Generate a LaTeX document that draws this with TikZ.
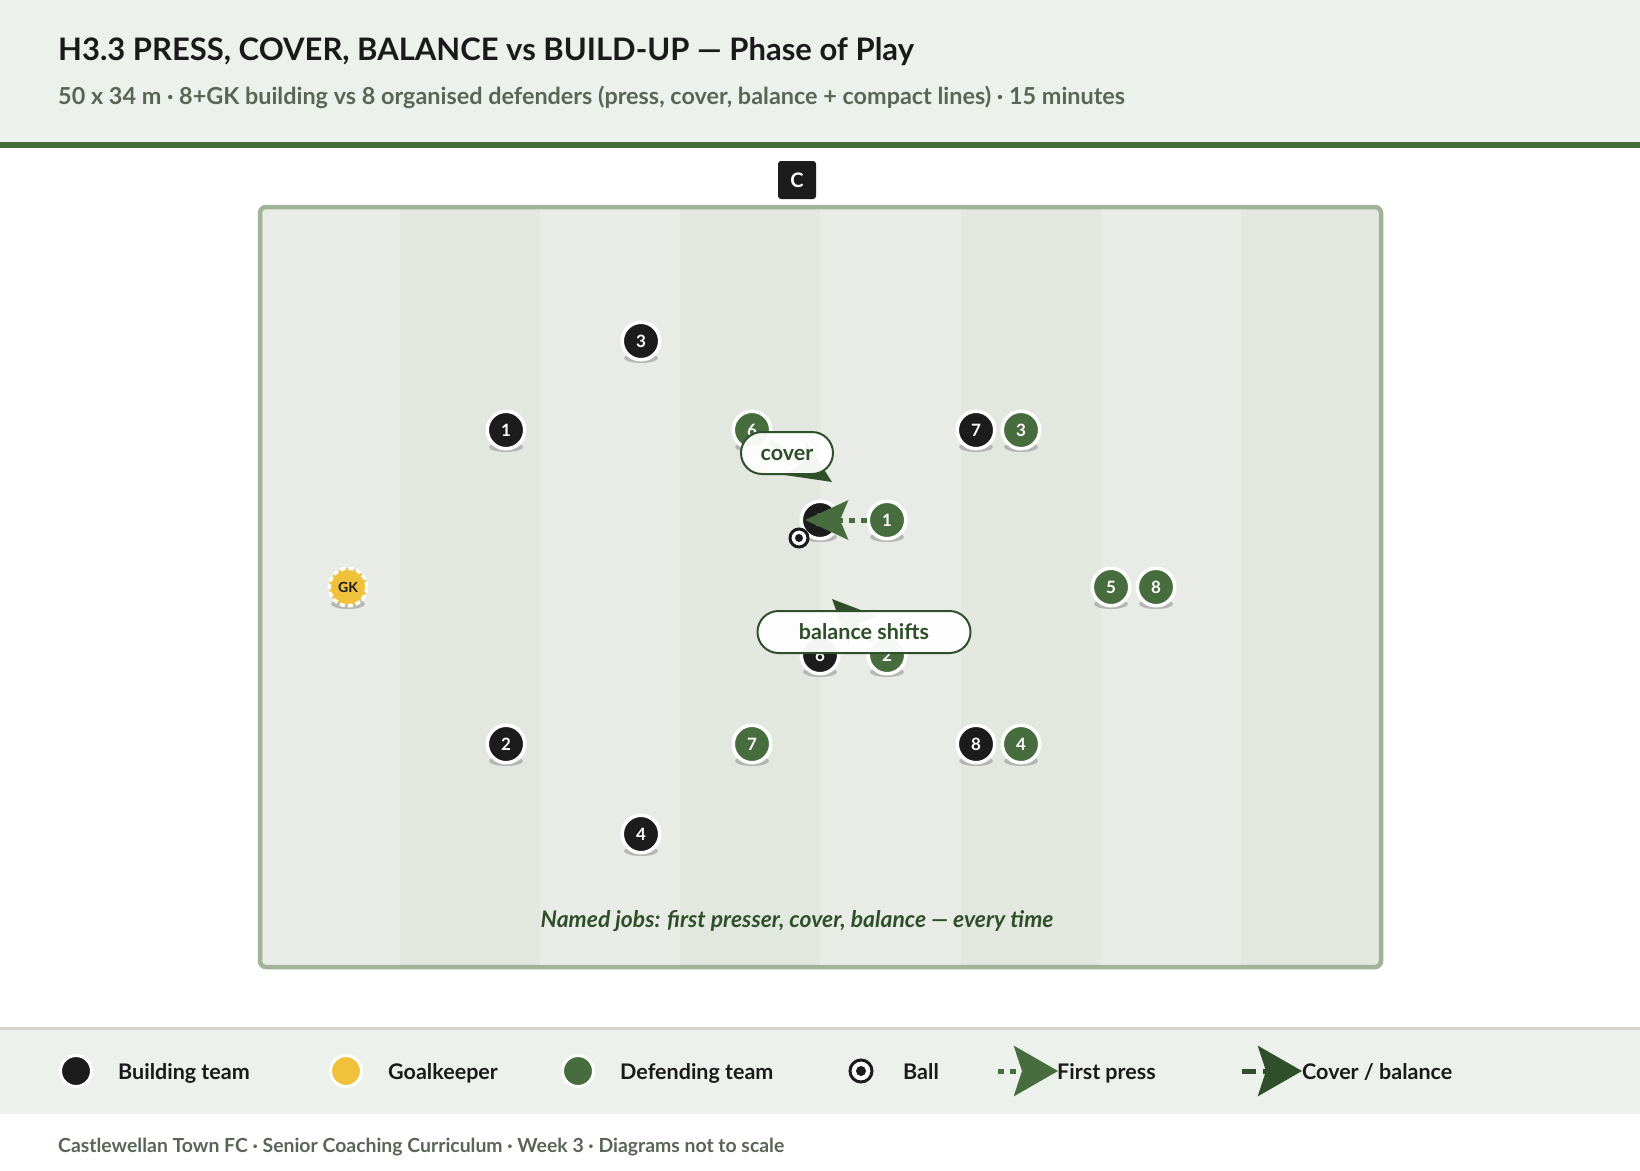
\documentclass[tikz,border=0pt]{standalone}
\usepackage{fontspec}
\setmainfont{Lato}
\usetikzlibrary{arrows.meta, positioning}

\definecolor{headbg}{HTML}{EDF1EC}
\definecolor{titleblk}{HTML}{1A1A1A}
\definecolor{subgray}{HTML}{5A6556}
\definecolor{rulegreen}{HTML}{466B3C}
\definecolor{stripelt}{HTML}{E9ECE6}
\definecolor{stripedk}{HTML}{E2E8DF}
\definecolor{pitchline}{HTML}{A2B497}
\definecolor{buildblk}{HTML}{1C1C1C}
\definecolor{defgreen}{HTML}{476D3E}
\definecolor{covergreen}{HTML}{2F4F2A}
\definecolor{gkyellow}{HTML}{F0C23B}
\definecolor{shadowgray}{HTML}{8E8E8E}
\definecolor{legline}{HTML}{D8D3CA}

\begin{document}
\begin{tikzpicture}[x=1pt, y=-1pt,
    every node/.style={font=\bfseries},
    player/.style={circle, draw=white, line width=3.5pt, minimum size=37.5pt,
                   inner sep=0pt, text=white, font=\fontsize{17}{17}\selectfont\bfseries},
    bplayer/.style={player, fill=buildblk},
    gplayer/.style={player, fill=defgreen},
    keeper/.style={player, fill=gkyellow, dash pattern=on 5pt off 3pt,
                   text=buildblk, font=\fontsize{14}{14}\selectfont\bfseries},
    legdot/.style={circle, draw=white, line width=3pt, minimum size=31pt, inner sep=0pt},
    ballmark/.style={circle, draw=buildblk, fill=white, line width=3pt, inner sep=0pt},
    shadowblob/.style={fill=shadowgray, opacity=0.55},
    pressarrow/.style={defgreen, line width=5pt, dash pattern=on 6pt off 6pt,
                       -{Stealth[length=43pt, width=39pt, inset=8pt]}},
    coverarrow/.style={covergreen, line width=5pt, dash pattern=on 14pt off 7pt,
                       -{Stealth[length=43pt, width=39pt, inset=8pt]}},
    bubble/.style={rectangle, rounded corners=21pt, draw=covergreen, line width=2pt,
                   fill=white, fill opacity=0.95, text opacity=1, text=covergreen,
                   minimum height=42pt, inner sep=0pt, text height=15pt, text depth=0pt,
                   font=\fontsize{21.5}{21.5}\selectfont\bfseries},
    plain/.style={inner sep=0pt},
    legtext/.style={plain, anchor=base west, text=titleblk, font=\fontsize{21.5}{21.5}\selectfont\bfseries}
]
\useasboundingbox (0,0) rectangle (1640,1170);
\fill[white] (0,0) rectangle (1640,1170);

% header
\fill[headbg] (0,0) rectangle (1640,142);
\draw[rulegreen, line width=6pt] (0,145) -- (1640,145);
\node[plain, anchor=base west, text=titleblk, font=\fontsize{31}{31}\selectfont\bfseries] (title) at (58,60)
    {H3.3 PRESS, COVER, BALANCE vs BUILD-UP — Phase of Play};
\node[plain, anchor=base west, text=subgray, font=\fontsize{23.4}{23.4}\selectfont\bfseries] (subtitle) at (58,104)
    {50 x 34 m · 8+GK building vs 8 organised defenders (press, cover, balance + compact lines) · 15 minutes};

\node[rectangle, rounded corners=3pt, fill=buildblk, text=white, minimum size=38pt,
      font=\fontsize{20}{20}\selectfont\bfseries] (zone) at (797,180) {C};

% pitch
\fill[stripelt] (260,207) rectangle (1381,967);
\foreach \sx in {400,680,961,1241}
    \fill[stripedk] (\sx,207) rectangle (\sx+140,967);
\draw[pitchline, line width=4.5pt, rounded corners=6pt] (260,207) rectangle (1381,967);

% players
\foreach \nm/\px/\py/\num in {b3/641/341/3, b1/506/430/1, b7/976/430/7, b5/820/520/5,
        b6/820/655/6, b2/506/744/2, b8/976/744/8, b4/641/834/4} {
    \fill[shadowblob] (\px,\py+17) ellipse (17pt and 5pt);
    \node[bplayer] (\nm) at (\px,\py) {\num};
}
\foreach \nm/\px/\py/\num in {g6/752/430/6, g3/1021/430/3, g1/887/520/1, g5/1111/587/5,
        g8/1156/587/8, g2/887/655/2, g7/752/744/7, g4/1021/744/4} {
    \fill[shadowblob] (\px,\py+17) ellipse (17pt and 5pt);
    \node[gplayer] (\nm) at (\px,\py) {\num};
}
\fill[shadowblob] (348,604) ellipse (17pt and 5pt);
\node[keeper] (gk) at (348,587) {GK};

\node[ballmark, minimum size=18pt] (ball) at (799,538) {};
\fill[buildblk] (ball.center) circle (4pt);

% jobs
\coordinate (presstip) at (805,520);
\coordinate (covertip) at (832,482);
\coordinate (baltip) at (832,599);
\draw[pressarrow] (g1) -- (presstip);
\draw[coverarrow] (g6) -- (covertip);
\draw[coverarrow] (g2) -- (baltip);

\node[bubble, minimum width=92pt] (coverlbl) at (787,453) {cover};
\node[bubble, minimum width=213pt] (ballbl) at (864,632) {balance shifts};

\node[plain, anchor=base, text=covergreen, font=\fontsize{22.9}{22.9}\selectfont\bfseries\itshape] (jobs) at (797,927)
    {Named jobs: first presser, cover, balance — every time};

% legend
\fill[headbg] (0,1028) rectangle (1640,1114);
\draw[legline, line width=3pt] (0,1028) -- (1640,1028);
\node[legdot, fill=buildblk] (lgbuild) at (76,1071) {};
\node[legtext] (lgbuildt) at (118,1079) {Building team};
\node[legdot, fill=gkyellow] (lgkeep) at (346,1071) {};
\node[legtext] (lgkeept) at (388,1079) {Goalkeeper};
\node[legdot, fill=defgreen] (lgdef) at (578,1071) {};
\node[legtext] (lgdeft) at (620,1079) {Defending team};
\node[ballmark, minimum size=22pt] (lgball) at (861,1071) {};
\fill[buildblk] (lgball.center) circle (5pt);
\node[legtext] (lgballt) at (903,1079) {Ball};
\coordinate (lgpressa) at (998,1071);
\coordinate (lgpressb) at (1058,1071);
\draw[pressarrow, -{Stealth[length=44pt, width=50pt, inset=8pt]}] (lgpressa) -- (lgpressb);
\node[legtext] (lgprest) at (1057,1079) {First press};
\coordinate (lgcova) at (1242,1071);
\coordinate (lgcovb) at (1302,1071);
\draw[coverarrow, -{Stealth[length=44pt, width=50pt, inset=8pt]}] (lgcova) -- (lgcovb);
\node[legtext] (lgcovt) at (1302,1079) {Cover / balance};

\node[plain, anchor=base west, text=subgray, font=\fontsize{19.4}{19.4}\selectfont\bfseries] (footer) at (58,1152)
    {Castlewellan Town FC · Senior Coaching Curriculum · Week 3 · Diagrams not to scale};
\end{tikzpicture}
\end{document}
